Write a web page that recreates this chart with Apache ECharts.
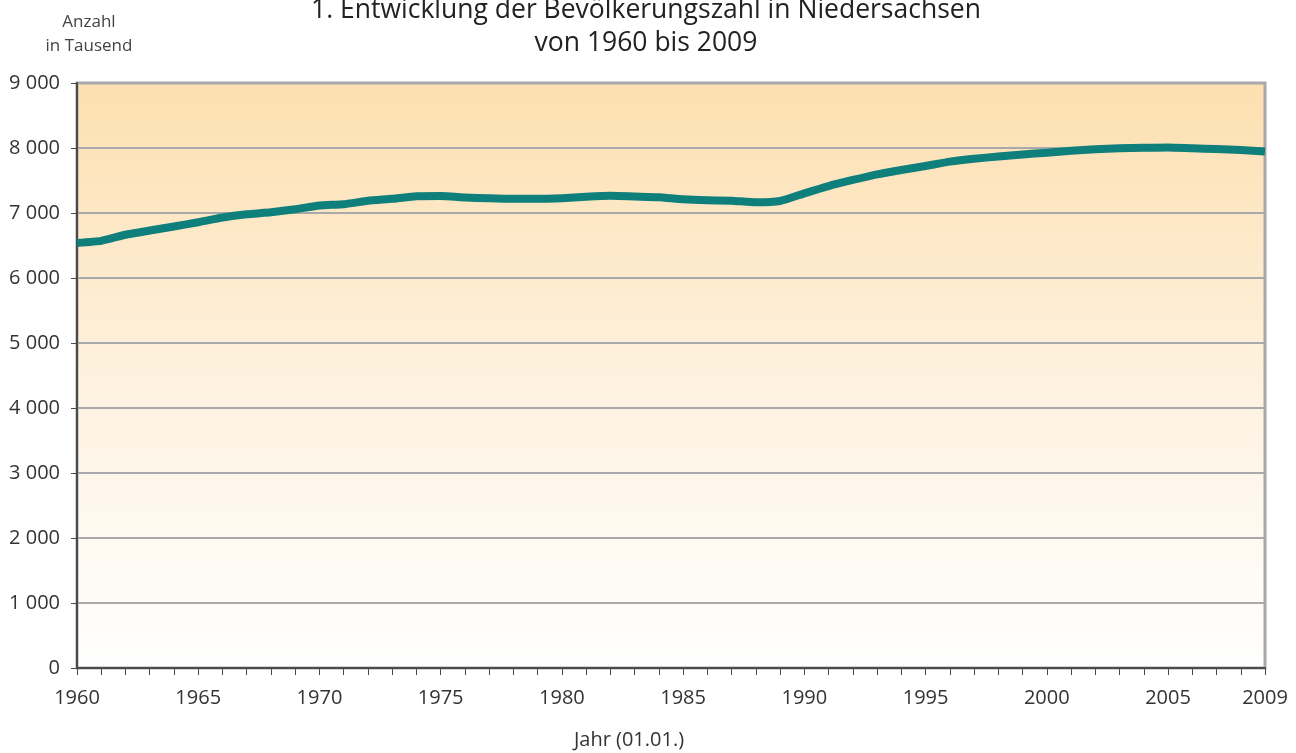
<!DOCTYPE html>
<html>
<head>
<meta charset="utf-8">
<title>Bevölkerungszahl Niedersachsen</title>
<script src="https://cdn.jsdelivr.net/npm/echarts@6/dist/echarts.min.js"></script>
<style>
  html, body { margin: 0; padding: 0; background: #fff; }
  #chart { width: 1296px; height: 753px; }
</style>
</head>
<body>
<div id="chart"></div>
<script>
// Jahre (01.01.)
const years = [];
for (let y = 1960; y <= 2009; y++) years.push(String(y));

// Bevölkerung in Tausend
const population = [
  6540, 6572, 6665, 6730, 6792, 6858, 6930, 6980, 7012, 7058,
  7115, 7135, 7188, 7218, 7258, 7262, 7240, 7226, 7218, 7218,
  7228, 7250, 7265, 7255, 7242, 7210, 7195, 7190, 7165, 7185,
  7303, 7415, 7508, 7595, 7662, 7723, 7790, 7835, 7868, 7900,
  7928, 7956, 7979, 7995, 8002, 8008, 7995, 7984, 7970, 7945
];

const labelYears = ['1960', '1965', '1970', '1975', '1980', '1985', '1990', '1995', '2000', '2005', '2009'];

const font = '"Open Sans", "Noto Sans", sans-serif';

const chart = echarts.init(document.getElementById('chart'));

const option = {
  animation: false,
  textStyle: { fontFamily: font },
  graphic: [
    // titel, zwei zeilen
    {
      type: 'text', x: 646, y: 10,
      style: {
        text: '1. Entwicklung der Bevölkerungszahl in Niedersachsen',
        fill: '#222', font: '26.5px ' + font,
        textAlign: 'center', textVerticalAlign: 'middle'
      }
    },
    {
      type: 'text', x: 646, y: 43,
      style: {
        text: 'von 1960 bis 2009',
        fill: '#222', font: '26.5px ' + font,
        textAlign: 'center', textVerticalAlign: 'middle'
      }
    },
    {
      type: 'text', x: 89, y: 22,
      style: {
        text: 'Anzahl', fill: '#444', font: '17px ' + font,
        textAlign: 'center', textVerticalAlign: 'middle'
      }
    },
    {
      type: 'text', x: 89, y: 46,
      style: {
        text: 'in Tausend', fill: '#444', font: '17px ' + font,
        textAlign: 'center', textVerticalAlign: 'middle'
      }
    },
    {
      type: 'text', x: 629, y: 740,
      style: {
        text: 'Jahr (01.01.)', fill: '#333', font: '20px ' + font,
        textAlign: 'center', textVerticalAlign: 'middle'
      }
    }
  ],
  grid: {
    left: 77,
    right: 31,
    top: 83,
    bottom: 85,
    show: true,
    borderColor: '#a8a8ab',
    borderWidth: 3,
    backgroundColor: new echarts.graphic.LinearGradient(0, 0, 0, 1, [
      { offset: 0, color: '#fddfb0' },
      { offset: 0.55, color: '#fef3e2' },
      { offset: 1, color: '#ffffff' }
    ])
  },
  xAxis: {
    type: 'category',
    data: years,
    boundaryGap: false,
    axisLine: { lineStyle: { color: '#4a4a4a', width: 2 } },
    axisTick: { show: true, interval: 0, length: 7, lineStyle: { color: '#4a4a4a', width: 1 } },
    axisLabel: {
      interval: (i, v) => labelYears.includes(v),
      margin: 20,
      fontSize: 20,
      color: '#333',
      fontFamily: font
    },
    splitLine: { show: false }
  },
  yAxis: {
    type: 'value',
    min: 0,
    max: 9000,
    interval: 1000,
    axisLine: { show: true, lineStyle: { color: '#4a4a4a', width: 2 } },
    axisTick: { show: true, length: 6, lineStyle: { color: '#4a4a4a', width: 1 } },
    axisLabel: {
      margin: 17,
      fontSize: 20,
      color: '#333',
      fontFamily: font,
      formatter: v => String(v).replace(/\B(?=(\d{3})+(?!\d))/g, ' ')
    },
    splitLine: { show: true, lineStyle: { color: '#a9a9ab', width: 2 } }
  },
  series: [
    {
      type: 'line',
      data: population,
      symbol: 'none',
      smooth: 0.15,
      lineStyle: { color: '#0e7f7b', width: 8, join: 'round', cap: 'butt' }
    }
  ]
};

chart.setOption(option);
</script>
</body>
</html>
